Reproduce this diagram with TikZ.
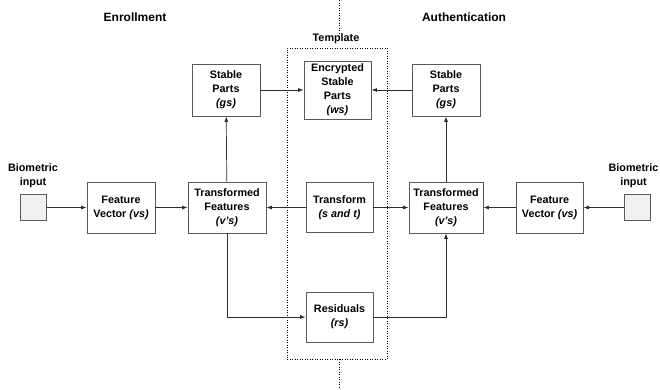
\documentclass[tikz,border=0pt]{standalone}
\usepackage{fontspec}
\setmainfont{Liberation Sans}
\usetikzlibrary{arrows.meta}
\definecolor{boxgray}{HTML}{5A5A5A}
\definecolor{linegray}{HTML}{2E2E2E}
\definecolor{inputfill}{HTML}{F0F0F0}
\tikzset{
    block/.style={draw=boxgray, line width=0.8pt, align=center, inner sep=1pt,
        minimum height=51pt, font=\fontsize{10.8}{14}\selectfont\bfseries},
    sensor/.style={draw=boxgray, fill=inputfill, line width=0.8pt, minimum size=26pt, inner sep=0pt},
    tag/.style={align=center, inner sep=0pt, font=\fontsize{10.8}{14}\selectfont\bfseries},
    heading/.style={inner sep=0pt, font=\fontsize{12}{14}\selectfont\bfseries},
    flow/.style={draw=linegray, line width=0.7pt, -{Latex[length=5.5pt,width=4pt]}},
    split/.style={draw=black, line width=0.5pt, dash pattern=on 1pt off 1.5pt}
}
\begin{document}
\begin{tikzpicture}[x=1pt, y=-1pt]
    \useasboundingbox (0,0) rectangle (660,389);

    \node[heading] (enroll) at (135,17) {Enrollment};
    \node[heading] (auth) at (464,17) {Authentication};

    \node[split, minimum width=100pt, minimum height=311pt, inner sep=0pt] (tpl) at (337,203.5) {};
    \node[tag] (tpltext) at (336,39) {Template};
    \coordinate (top) at (339,0);
    \coordinate (bottom) at (339,389);
    \draw[split] (top) -- ([yshift=1pt]top |- tpltext.north);
    \draw[split] (bottom |- tpl.south) -- (bottom);

    \node[sensor] (bioL) at (33.5,207.5) {};
    \node[tag] (bioLtext) at (33,176) {Biometric\\input};
    \node[block, minimum width=68pt] (fvL) at (121,207.5) {Feature\\Vector \textit{(vs)}};
    \node[block, minimum width=78pt] (tfL) at (227,207.5) {Transformed\\Features\\\textit{(v's)}};
    \node[block, minimum width=67pt, minimum height=50pt] (tr) at (339.5,207.5) {Transform\\\textit{(s and t)}};
    \node[block, minimum width=74pt] (tfR) at (446,207.5) {Transformed\\Features\\\textit{(v's)}};
    \node[block, minimum width=67pt] (fvR) at (549.5,207.5) {Feature\\Vector \textit{(vs)}};
    \node[sensor] (bioR) at (637.5,207.5) {};
    \node[tag] (bioRtext) at (633.5,176) {Biometric\\input};

    \node[block, minimum width=68pt, minimum height=52pt] (spL) at (226,90) {Stable\\Parts\\\textit{(gs)}};
    \node[block, minimum width=67pt, minimum height=58pt] (enc) at (337.5,90) {Encrypted\\Stable\\Parts\\\textit{(ws)}};
    \node[block, minimum width=68pt, minimum height=52pt] (spR) at (446,90) {Stable\\Parts\\\textit{(gs)}};

    \node[block, minimum width=67pt, minimum height=50pt] (res) at (339.5,317) {Residuals\\\textit{(rs)}};

    \draw[flow] (bioL) -- (fvL);
    \draw[flow] (fvL) -- (tfL);
    \draw[flow] (tr) -- (tfL);
    \draw[flow] (tr) -- (tfR);
    \draw[flow] (fvR) -- (tfR);
    \draw[flow] (bioR) -- (fvR);
    \draw[flow] (tfL) -- (spL);
    \draw[flow] (tfR) -- (spR);
    \draw[flow] (spL) -- (enc);
    \draw[flow] (spR) -- (enc);
    \draw[flow] (tfL) |- (res);
    \draw[flow] (res) -| (tfR);
\end{tikzpicture}
\end{document}
